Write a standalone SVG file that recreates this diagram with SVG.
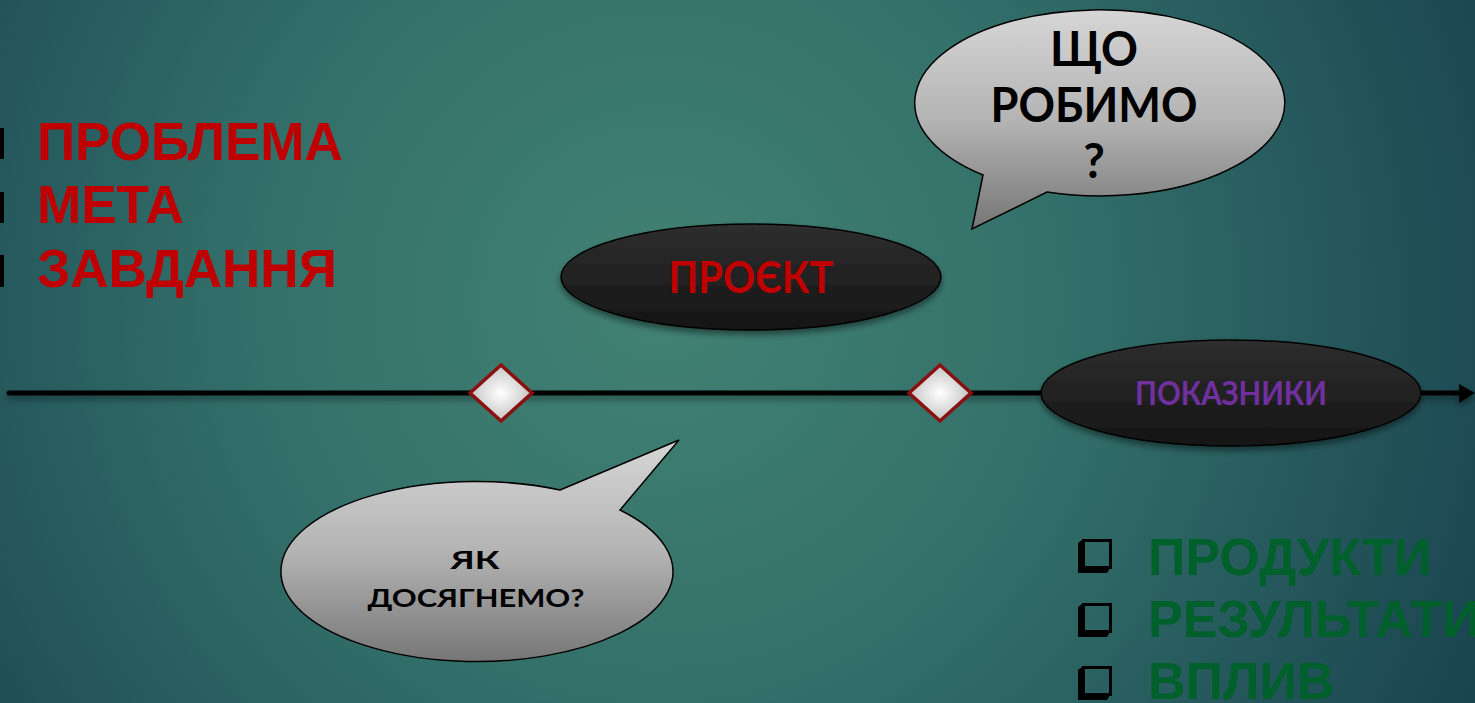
<svg xmlns="http://www.w3.org/2000/svg" width="1475" height="703" viewBox="0 0 1475 703">
  <defs>
    <radialGradient id="bg" cx="660" cy="300" r="900" gradientUnits="userSpaceOnUse">
      <stop offset="0" stop-color="#428273"/>
      <stop offset="0.45" stop-color="#33706a"/>
      <stop offset="1" stop-color="#1a4450"/>
    </radialGradient>
    <linearGradient id="bubble" x1="0" y1="0" x2="0" y2="1">
      <stop offset="0" stop-color="#d6d6d6"/>
      <stop offset="0.5" stop-color="#b4b4b4"/>
      <stop offset="1" stop-color="#767676"/>
    </linearGradient>
    <linearGradient id="dark" x1="0" y1="0" x2="0" y2="1">
      <stop offset="0" stop-color="#2e2e2e"/>
      <stop offset="1" stop-color="#151515"/>
    </linearGradient>
    <radialGradient id="dia" cx="0.5" cy="0.5" r="0.5">
      <stop offset="0" stop-color="#ffffff"/>
      <stop offset="1" stop-color="#c4c4c4"/>
    </radialGradient>
    <filter id="sh" x="-20%" y="-20%" width="140%" height="150%">
      <feDropShadow dx="0" dy="4" stdDeviation="3" flood-color="#000" flood-opacity="0.45"/>
    </filter>
    <filter id="lsh" filterUnits="userSpaceOnUse" x="0" y="370" width="1475" height="50">
      <feDropShadow dx="0" dy="4" stdDeviation="3" flood-color="#000" flood-opacity="0.4"/>
    </filter>
    <g id="box">
      <polygon points="0,4 4,1 4,29 32,29 29,34 0,34" fill="#000"/>
      <rect x="5.5" y="1.5" width="27" height="27" fill="none" stroke="#000" stroke-width="3"/>
    </g>
  </defs>
  <style>
    .red { font-family: "Liberation Sans", Arial, sans-serif; font-weight: bold; font-size: 53px; fill: #c00000; }
    .green { font-family: "Liberation Sans", Arial, sans-serif; font-weight: bold; font-size: 52px; fill: #00602b; }
    .goth { font-family: Lato, "Noto Sans", sans-serif; font-weight: bold; text-anchor: middle; }
    .bub { fill: url(#bubble); stroke: #000; stroke-width: 1.5; }
    .oval { fill: url(#dark); stroke: #000; stroke-width: 1.5; filter: url(#sh); }
    .diamond { fill: url(#dia); stroke: #8b1010; stroke-width: 3.5; }
  </style>

  <rect width="1475" height="703" fill="url(#bg)"/>

  <g id="left-list">
    <rect x="0" y="128" width="4" height="31" fill="#000"/>
    <rect x="0" y="192" width="4" height="31" fill="#000"/>
    <rect x="0" y="255" width="4" height="32" fill="#000"/>
    <text class="red" x="37" y="160">ПРОБЛЕМА</text>
    <text class="red" x="37" y="223">МЕТА</text>
    <text class="red" x="37" y="287">ЗАВДАННЯ</text>
  </g>

  <g id="connectors" filter="url(#lsh)">
    <line x1="9" y1="393" x2="1462" y2="393" stroke="#000" stroke-width="5" stroke-linecap="round"/>
    <polygon points="1459,384 1475,393 1459,403" fill="#000"/>
  </g>

  <g id="bubble-top">
    <path class="bub" d="M 983 175 L 972 229 L 1047 192 A 185 93 0 1 0 983 175 Z"/>
    <text class="goth" font-size="47" x="1094" y="66" textLength="88" lengthAdjust="spacingAndGlyphs">ЩО</text>
    <text class="goth" font-size="47" x="1094" y="122" textLength="207" lengthAdjust="spacingAndGlyphs">РОБИМО</text>
    <text class="goth" font-size="47" x="1094" y="178">?</text>
  </g>

  <g id="project">
    <ellipse class="oval" cx="751" cy="277" rx="190" ry="53"/>
    <text class="goth" font-size="43" fill="#c00000" x="751" y="293" textLength="165" lengthAdjust="spacingAndGlyphs">ПРОЄКТ</text>
  </g>

  <g id="milestone-1">
    <polygon class="diamond" points="501,365 532,393 501,421 470,393"/>
  </g>
  <g id="milestone-2">
    <polygon class="diamond" points="940,365 971,393 940,421 909,393"/>
  </g>

  <g id="indicators">
    <ellipse class="oval" cx="1231" cy="393" rx="190" ry="53"/>
    <text class="goth" font-size="32" fill="#7030a0" x="1231" y="405" textLength="192" lengthAdjust="spacingAndGlyphs">ПОКАЗНИКИ</text>
  </g>

  <g id="bubble-bottom">
    <path class="bub" d="M 560 490 L 679 440 L 620 510 A 196 90 0 1 1 560 490 Z"/>
    <text class="goth" font-size="25" x="475" y="569" textLength="49" lengthAdjust="spacingAndGlyphs">ЯК</text>
    <text class="goth" font-size="25" x="476" y="607" textLength="217" lengthAdjust="spacingAndGlyphs">ДОСЯГНЕМО?</text>
  </g>

  <g id="right-list">
    <use href="#box" x="1078" y="539"/>
    <use href="#box" x="1078" y="603"/>
    <use href="#box" x="1078" y="666"/>
    <text class="green" x="1148" y="575">ПРОДУКТИ</text>
    <text class="green" x="1148" y="637">РЕЗУЛЬТАТИ</text>
    <text class="green" x="1148" y="699">ВПЛИВ</text>
  </g>
</svg>
